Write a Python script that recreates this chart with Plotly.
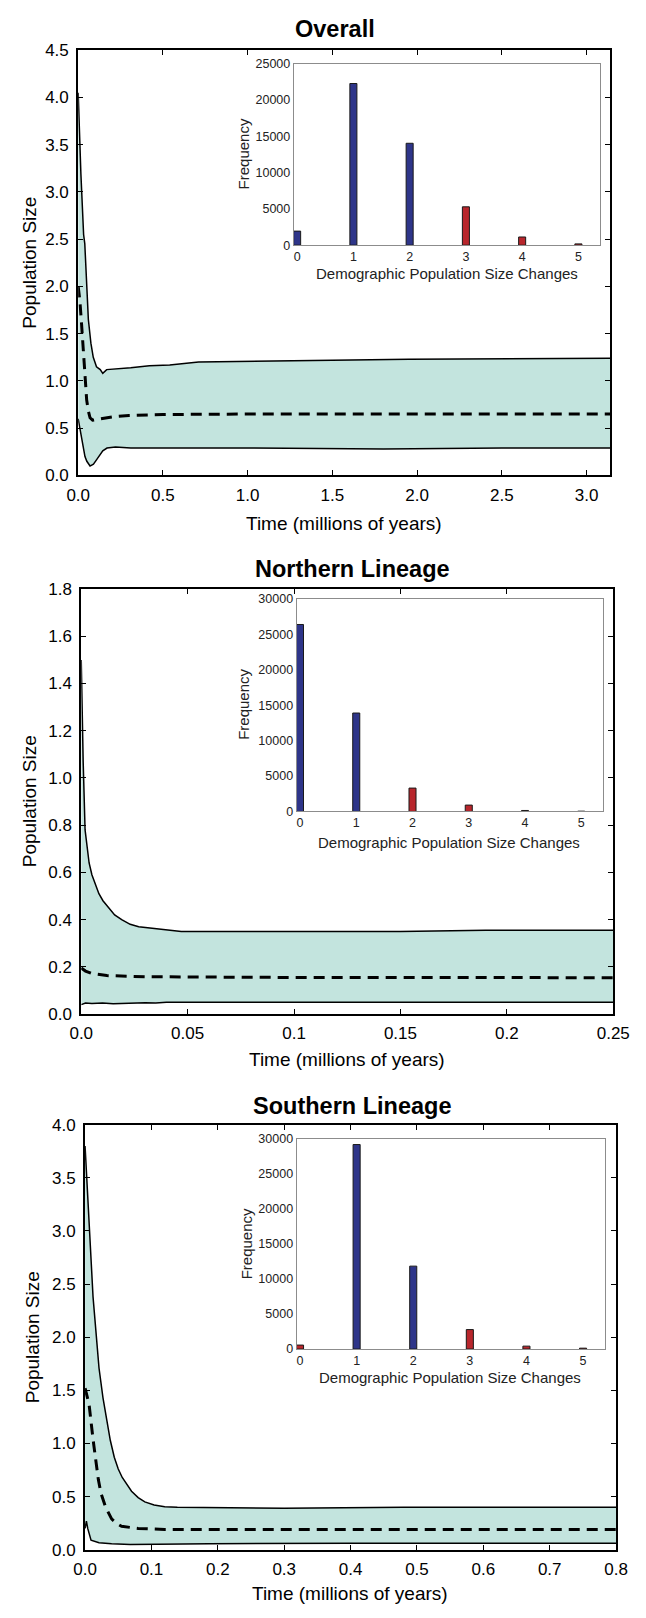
import plotly.graph_objects as go

# ---------------- data ----------------
# Overall
ov_t_up = [0, 0.005, 0.016, 0.032, 0.039, 0.06, 0.075, 0.089, 0.108, 0.13, 0.145, 0.168, 0.22, 0.31, 0.42, 0.54, 0.71, 1.0, 1.5, 1.95, 2.5, 3.14]
ov_up = [4.05, 3.7, 3.19, 2.55, 2.45, 1.65, 1.4, 1.25, 1.15, 1.12, 1.08, 1.12, 1.13, 1.14, 1.16, 1.17, 1.20, 1.21, 1.22, 1.23, 1.235, 1.24]
ov_t_med = [0, 0.01, 0.02, 0.032, 0.042, 0.05, 0.06, 0.07, 0.085, 0.1, 0.14, 0.2, 0.3, 0.5, 1.0, 2.0, 3.14]
ov_med = [2.0, 1.85, 1.6, 1.25, 1.0, 0.8, 0.68, 0.61, 0.585, 0.59, 0.60, 0.62, 0.635, 0.645, 0.65, 0.65, 0.65]
ov_t_low = [0, 0.01, 0.028, 0.04, 0.051, 0.06, 0.07, 0.08, 0.09, 0.11, 0.13, 0.145, 0.17, 0.22, 0.31, 0.5, 1.0, 1.8, 2.5, 3.14]
ov_low = [0.60, 0.5, 0.30, 0.2, 0.15, 0.12, 0.10, 0.11, 0.12, 0.17, 0.22, 0.26, 0.29, 0.30, 0.29, 0.29, 0.29, 0.28, 0.29, 0.29]

# Northern lineage
no_t_up = [0, 0.0005, 0.0009, 0.0018, 0.0027, 0.0037, 0.005, 0.0065, 0.0083, 0.0102, 0.0128, 0.0157, 0.019, 0.023, 0.027, 0.032, 0.038, 0.042, 0.047, 0.06, 0.1, 0.15, 0.19, 0.25]
no_up = [1.5, 1.25, 1.07, 0.78, 0.7, 0.64, 0.59, 0.55, 0.51, 0.48, 0.45, 0.42, 0.40, 0.38, 0.37, 0.365, 0.36, 0.358, 0.35, 0.35, 0.35, 0.35, 0.355, 0.355]
no_t_med = [0, 0.002, 0.005, 0.012, 0.03, 0.06, 0.1, 0.15, 0.2, 0.25]
no_med = [0.195, 0.182, 0.172, 0.163, 0.158, 0.156, 0.155, 0.155, 0.154, 0.154]
no_t_low = [0, 0.002, 0.005, 0.01, 0.015, 0.02, 0.025, 0.03, 0.035, 0.04, 0.05, 0.1, 0.15, 0.2, 0.25]
no_low = [0.04, 0.047, 0.045, 0.047, 0.044, 0.046, 0.045, 0.048, 0.047, 0.05, 0.05, 0.05, 0.049, 0.05, 0.05]

# Southern lineage
so_t_up = [0, 0.006, 0.012, 0.021, 0.027, 0.033, 0.038, 0.044, 0.05, 0.056, 0.062, 0.07, 0.08, 0.09, 0.104, 0.12, 0.139, 0.187, 0.3, 0.48, 0.8]
so_up = [3.8, 3.05, 2.38, 1.71, 1.43, 1.21, 1.03, 0.87, 0.76, 0.68, 0.62, 0.55, 0.49, 0.45, 0.42, 0.405, 0.40, 0.395, 0.39, 0.40, 0.40]
so_t_med = [0, 0.006, 0.012, 0.016, 0.02, 0.024, 0.031, 0.04, 0.048, 0.055, 0.08, 0.12, 0.3, 0.8]
so_med = [1.52, 1.37, 1.04, 0.82, 0.66, 0.53, 0.40, 0.29, 0.245, 0.22, 0.20, 0.19, 0.19, 0.19]
so_t_low = [0, 0.002, 0.004, 0.009, 0.021, 0.04, 0.068, 0.12, 0.187, 0.4, 0.8]
so_low = [0.2, 0.27, 0.2, 0.09, 0.065, 0.055, 0.05, 0.055, 0.057, 0.06, 0.06]

# Histograms (number of demographic population size changes)
changes = [0, 1, 2, 3, 4, 5]
ov_freq = [1940, 22290, 14050, 5290, 1130, 180]
no_freq = [26400, 13900, 3300, 900, 140, 40]
so_freq = [570, 29150, 11820, 2780, 420, 130]

titles = ["Overall", "Northern Lineage", "Southern Lineage"]
x_title = "Time (millions of years)"
y_title = "Population Size"
inset_x_title = "Demographic Population Size Changes"
inset_y_title = "Frequency"

# ---------------- styles ----------------
W, H = 646, 1618
FONT = "Liberation Sans, Arial, Helvetica, sans-serif"
BAND = "#C3E4DE"
BLUE = "#2E3589"
RED = "#B8262C"
ov_colors = [BLUE, BLUE, BLUE, RED, RED, RED]
no_colors = [BLUE, BLUE, RED, RED, RED, RED]
so_colors = [RED, BLUE, BLUE, RED, RED, RED]

# pixel boxes: (left, right, top, bottom)
main_boxes = [(69.3, 626.5, 41.7, 472), (72.5, 629.5, 587, 1017), (76.5, 632.5, 1129, 1559)]
inset_boxes = [(295, 616, 55.5, 239), (298, 619, 597, 812), (298, 621, 1143, 1356)]

def xd(l, r):
    return [l / W, r / W]

def yd(t, b):
    return [1 - b / H, 1 - t / H]

fig = go.Figure()

panels = [
    (ov_t_up, ov_up, ov_t_med, ov_med, ov_t_low, ov_low, ov_freq, ov_colors, [0, 3.14], [0, 4.5], 0.5),
    (no_t_up, no_up, no_t_med, no_med, no_t_low, no_low, no_freq, no_colors, [0, 0.25], [0, 1.8], 0.2),
    (so_t_up, so_up, so_t_med, so_med, so_t_low, so_low, so_freq, so_colors, [0, 0.8], [0, 4.0], 0.5),
]

layout = dict(
    width=W, height=H, autosize=False,
    margin=dict(l=0, r=0, t=0, b=0),
    paper_bgcolor="white", plot_bgcolor="rgba(0,0,0,0)",
    showlegend=False,
    font=dict(family=FONT, color="black"),
)

annotations = []
for i, (tu, u, tm, m, tl, lo, freq, cols, xr, yr, ydt) in enumerate(panels):
    n = i + 1
    xa = "x" if n == 1 else f"x{n}"
    ya = "y" if n == 1 else f"y{n}"
    ni = n + 3
    xi = f"x{ni}"
    yi = f"y{ni}"

    # band
    fig.add_trace(go.Scatter(x=tu + tl[::-1], y=u + lo[::-1], fill="toself", fillcolor=BAND,
                             line=dict(width=0), mode="lines", hoverinfo="skip", xaxis=xa, yaxis=ya))
    fig.add_trace(go.Scatter(x=tu, y=u, mode="lines", line=dict(color="black", width=1.5), xaxis=xa, yaxis=ya))
    fig.add_trace(go.Scatter(x=tl, y=lo, mode="lines", line=dict(color="black", width=1.5), xaxis=xa, yaxis=ya))
    fig.add_trace(go.Scatter(x=tm, y=m, mode="lines", line=dict(color="black", width=3, dash="11px,7px"),
                             xaxis=xa, yaxis=ya))
    # inset bars
    fig.add_trace(go.Bar(x=changes, y=freq, width=0.125, marker=dict(color=cols, line=dict(color="#1a1a1a", width=1)),
                         xaxis=xi, yaxis=yi))

    l, r, t, b = main_boxes[i]
    xkey = "xaxis" if n == 1 else f"xaxis{n}"
    ykey = "yaxis" if n == 1 else f"yaxis{n}"
    xaxis = dict(domain=xd(l, r), range=xr, anchor=ya, showline=True, linecolor="black", linewidth=2,
                 mirror="ticks", ticks="inside", ticklen=5, tickwidth=1, tickcolor="black",
                 showgrid=False, zeroline=False, ticklabelstandoff=3,
                 tickfont=dict(size=17, family=FONT, color="black"))
    if n == 2:
        xaxis.update(tickvals=[0, 0.05, 0.1, 0.15, 0.2, 0.25], ticktext=["0.0", "0.05", "0.1", "0.15", "0.2", "0.25"])
    else:
        xaxis.update(dtick=0.5 if n == 1 else 0.1, tick0=0, tickformat=".1f")
    layout[xkey] = xaxis
    layout[ykey] = dict(domain=yd(t, b), range=yr, anchor=xa, showline=True, linecolor="black", linewidth=2,
                        mirror="ticks", ticks="inside", ticklen=5, tickwidth=1, tickcolor="black",
                        showgrid=False, zeroline=False, dtick=ydt, tick0=0, tickformat=".1f",
                        ticklabelstandoff=4, tickfont=dict(size=17, family=FONT, color="black"))

    il, ir, it, ib = inset_boxes[i]
    layout[f"xaxis{ni}"] = dict(domain=xd(il, ir), range=[-0.06, 5.39], anchor=yi, showline=True,
                                linecolor="#8c8c8c", linewidth=1, mirror=True, ticks="", showgrid=False,
                                zeroline=False, tickvals=changes, tickfont=dict(size=12.5, family=FONT, color="#222"))
    layout[f"yaxis{ni}"] = dict(domain=yd(it, ib), range=[0, 25000 if n == 1 else 30000], anchor=xi, showline=True,
                                linecolor="#8c8c8c", linewidth=1, mirror=True, ticks="", showgrid=False,
                                zeroline=False, dtick=5000, tickformat="d",
                                tickfont=dict(size=12.5, family=FONT, color="#222"))

title_pos = [(338, 20), (356, 567), (356, 1110)]
xt_pos = [(348, 521), (351, 1063), (354, 1603)]
yt_pos = [(18.5, 257), (18.5, 802), (21, 1344)]
it_pos = [(455, 268), (458, 843), (459, 1385)]
iy_pos = [(242, 147), (243, 704), (245, 1250)]

for i in range(3):
    annotations.append(dict(text=f"<b>{titles[i]}</b>", x=title_pos[i][0] / W, y=1 - title_pos[i][1] / H,
                            xref="paper", yref="paper", showarrow=False, xanchor="center", yanchor="middle",
                            font=dict(size=23.5, family=FONT, color="black")))
    annotations.append(dict(text=x_title, x=xt_pos[i][0] / W, y=1 - xt_pos[i][1] / H,
                            xref="paper", yref="paper", showarrow=False, xanchor="center", yanchor="middle",
                            font=dict(size=19, family=FONT, color="black")))
    annotations.append(dict(text=y_title, x=yt_pos[i][0] / W, y=1 - yt_pos[i][1] / H, textangle=-90,
                            xref="paper", yref="paper", showarrow=False, xanchor="center", yanchor="middle",
                            font=dict(size=19, family=FONT, color="black")))
    annotations.append(dict(text=inset_x_title, x=it_pos[i][0] / W, y=1 - it_pos[i][1] / H,
                            xref="paper", yref="paper", showarrow=False, xanchor="center", yanchor="middle",
                            font=dict(size=15, family=FONT, color="#222")))
    annotations.append(dict(text=inset_y_title, x=iy_pos[i][0] / W, y=1 - iy_pos[i][1] / H, textangle=-90,
                            xref="paper", yref="paper", showarrow=False, xanchor="center", yanchor="middle",
                            font=dict(size=15, family=FONT, color="#222")))

layout["annotations"] = annotations
fig.update_layout(**layout)
fig.write_html("out.html", config={"displayModeBar": False},
               post_script="document.body.style.margin='0px';document.body.style.overflow='hidden';")
